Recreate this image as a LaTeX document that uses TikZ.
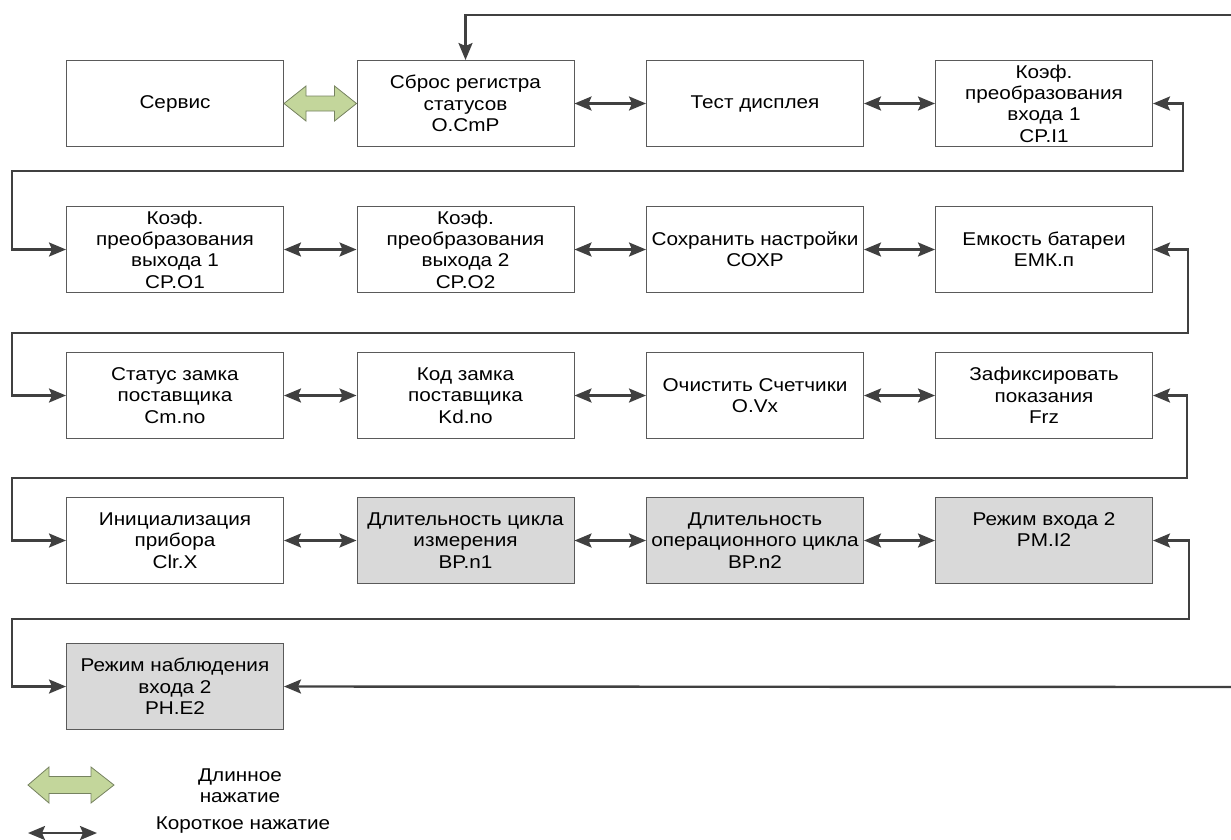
\documentclass[tikz,border=0pt]{standalone}
\usepackage{fontspec}
\setmainfont{Liberation Sans}[FakeStretch=1.12]
\usetikzlibrary{arrows.meta,calc}
\definecolor{lineC}{RGB}{64,64,64}
\definecolor{boxC}{RGB}{90,90,90}
\definecolor{grayF}{RGB}{217,217,217}
\definecolor{greenF}{RGB}{195,214,155}
\definecolor{greenD}{RGB}{118,130,96}
\tikzset{
  tipS/.tip={Stealth[length=17pt,width=14pt,inset=3pt]},
  box/.style={draw=boxC, line width=1pt, fill=white, minimum width=217pt, minimum height=86pt,
    align=center, inner sep=2pt, font=\fontsize{18.5}{21.3}\selectfont},
  shaded/.style={box, fill=grayF},
  link/.style={draw=lineC, line width=2.4pt, tipS-tipS},
  linkone/.style={draw=lineC, line width=2.4pt, -tipS},
  bigarrow/.style={draw=greenD, line width=0.8pt, fill=greenF, line join=miter},
  legtext/.style={align=center, font=\fontsize{18.5}{21.3}\selectfont}
}
\begin{document}
\begin{tikzpicture}[x=1pt,y=-1pt]
\useasboundingbox (0,0) rectangle (1231,839);
% row 1
\node[box] (serv)  at (175,103.5) {Сервис};
\node[box] (sbros) at (465.5,103.5) {Сброс регистра\\статусов\\O.CmP};
\node[box] (test)  at (755,103.5) {Тест дисплея};
\node[box] (cpi1)  at (1044,103.5) {Коэф.\\преобразования\\входа 1\\CP.I1};
% row 2
\node[box] (cpo1) at (175,249.5) {Коэф.\\преобразования\\выхода 1\\CP.O1};
\node[box] (cpo2) at (465.5,249.5) {Коэф.\\преобразования\\выхода 2\\CP.O2};
\node[box] (coxp) at (755,249.5) {Сохранить настройки\\СОХР};
\node[box] (emk)  at (1044,249.5) {Емкость батареи\\ЕМК.п};
% row 3
\node[box] (cm)  at (175,395.5) {Статус замка\\поставщика\\Cm.no};
\node[box] (kd)  at (465.5,395.5) {Код замка\\поставщика\\Kd.no};
\node[box] (ovx) at (755,395.5) {Очистить Счетчики\\O.Vx};
\node[box] (frz) at (1044,395.5) {Зафиксировать\\показания\\Frz};
% row 4
\node[box] (clr)    at (175,540.5) {Инициализация\\прибора\\Clr.X};
\node[shaded] (bpn1) at (465.5,540.5) {Длительность цикла\\измерения\\BP.n1};
\node[shaded] (bpn2) at (755,540.5) {Длительность\\операционного цикла\\BP.n2};
\node[shaded] (pmi2) at (1044,540.5) {Режим входа 2\\PM.I2\\~};
% row 5
\node[shaded] (phe2) at (175,686.5) {Режим наблюдения\\входа 2\\PH.E2};

% long-press arrow
\draw[bigarrow] (serv.east) -- ++(22,-17.5) -- ++(0,10) -- ($(sbros.west)+(-22,-7.5)$) -- ++(0,-10)
  -- (sbros.west) -- ++(-22,17.5) -- ++(0,-10) -- ($(serv.east)+(22,7.5)$) -- ++(0,10) -- cycle;

% short-press arrows
\draw[link] (sbros.east) -- (test.west);
\draw[link] (test.east) -- (cpi1.west);
\draw[link] (cpo1.east) -- (cpo2.west);
\draw[link] (cpo2.east) -- (coxp.west);
\draw[link] (coxp.east) -- (emk.west);
\draw[link] (cm.east) -- (kd.west);
\draw[link] (kd.east) -- (ovx.west);
\draw[link] (ovx.east) -- (frz.west);
\draw[link] (clr.east) -- (bpn1.west);
\draw[link] (bpn1.east) -- (bpn2.west);
\draw[link] (bpn2.east) -- (pmi2.west);

% wrap connectors
\draw[link] (cpi1.east) -| (1183,171) -- (12,171) |- (cpo1.west);
\draw[link] (emk.east) -| (1188,333) -- (12,333) |- (cm.west);
\draw[link] (frz.east) -| (1187,478) -- (12,478) |- (clr.west);
\draw[link] (pmi2.east) -| (1189,619) -- (12,619) |- (phe2.west);

% loop-back lines
\coordinate (topR) at (1236,15);
\coordinate (botR) at (1236,687);
\draw[linkone] (topR) -| (sbros.north);
\draw[linkone] (botR) -- (phe2.east);

% legend
\coordinate (lgA) at (28,785);
\coordinate (lgB) at (114,785);
\draw[bigarrow] (lgA) -- ++(21,-18) -- ++(0,9.5) -- ($(lgB)+(-23,-8.5)$) -- ++(0,-9.5)
  -- (lgB) -- ++(-23,18) -- ++(0,-9.5) -- ($(lgA)+(21,8.5)$) -- ++(0,9.5) -- cycle;
\node[legtext] (lgT1) at (240,786) {Длинное\\нажатие};
\coordinate (sA) at (28,833);
\coordinate (sB) at (97,833);
\draw[link] (sA) -- (sB);
\node[legtext] (lgT2) at (243,825) {Короткое нажатие};
\end{tikzpicture}
\end{document}
